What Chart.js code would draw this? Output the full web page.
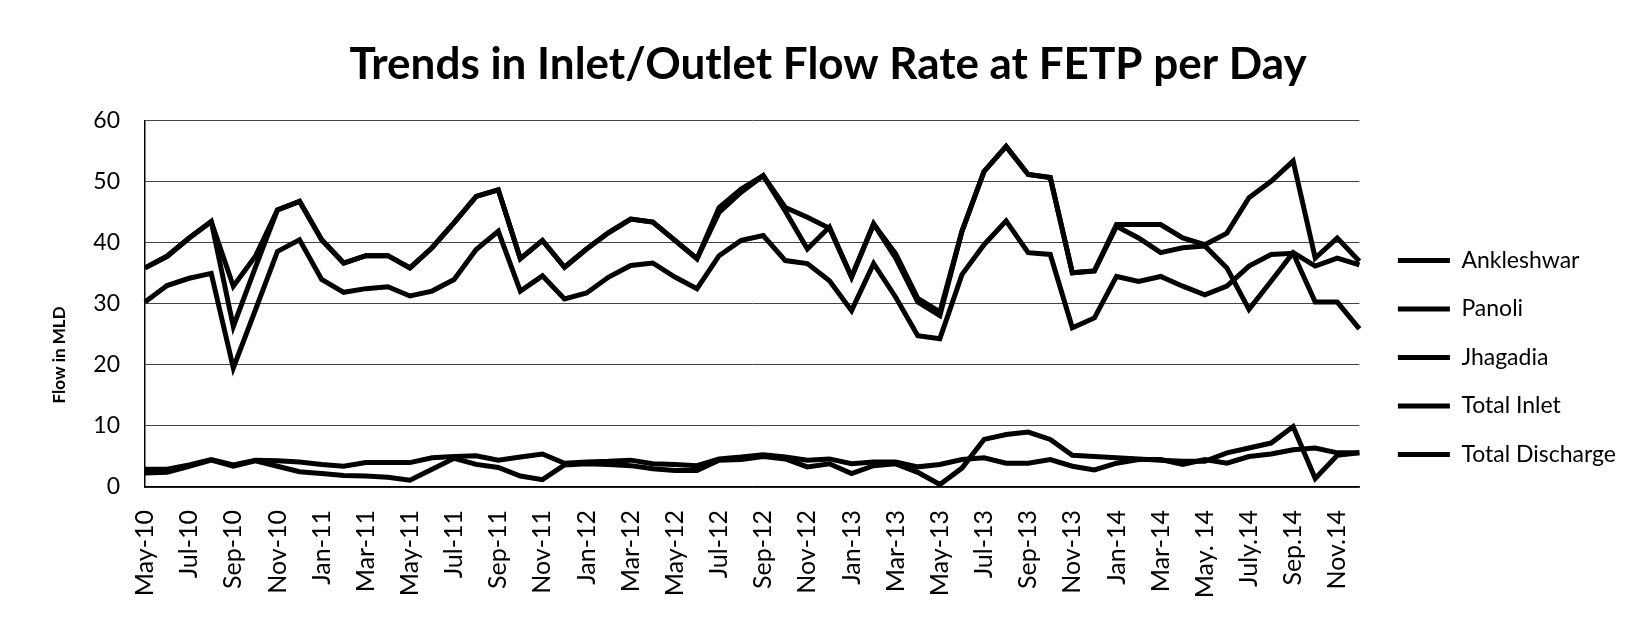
<!DOCTYPE html>
<html>
<head>
<meta charset="utf-8">
<script src="https://cdn.jsdelivr.net/npm/chart.js@4.4.1/dist/chart.umd.min.js"></script>
<style>
html,body{margin:0;padding:0;background:#fff;}
#wrap{width:1636px;height:623px;position:relative;}
canvas{display:block;}
</style>
</head>
<body>
<div id="wrap"><canvas id="c" width="1636" height="623"></canvas></div>
<script>
// ---- Data ----
const categories = [
  'May-10','Jun-10','Jul-10','Aug-10','Sep-10','Oct-10','Nov-10','Dec-10',
  'Jan-11','Feb-11','Mar-11','Apr-11','May-11','Jun-11','Jul-11','Aug-11','Sep-11','Oct-11','Nov-11','Dec-11',
  'Jan-12','Feb-12','Mar-12','Apr-12','May-12','Jun-12','Jul-12','Aug-12','Sep-12','Oct-12','Nov-12','Dec-12',
  'Jan-13','Feb-13','Mar-13','Apr-13','May-13','Jun-13','Jul-13','Aug-13','Sep-13','Oct-13','Nov-13','Dec-13',
  'Jan-14','Feb-14','Mar-14','Apr-14','May. 14','Jun. 14','July.14','Aug.14','Sep.14','Oct.14','Nov.14','Dec.14'
];

const ankleshwar = [
  30.3, 33.0, 34.2, 35.0, 19.5, 29.0, 38.6, 40.5,
  34.0, 31.9, 32.5, 32.8, 31.3, 32.1, 34.0, 38.9, 41.9, 32.1, 34.6, 30.8,
  31.8, 34.4, 36.3, 36.7, 34.4, 32.5, 37.9, 40.4, 41.2, 37.1, 36.6, 33.8,
  28.9, 36.6, 31.1, 24.8, 24.3, 34.8, 39.7, 43.6, 38.4, 38.1, 26.1, 27.7,
  34.5, 33.7, 34.5, 32.9, 31.5, 32.9, 36.2, 38.1, 38.3, 30.3, 30.3, 25.9
];

const panoli = [
  2.9, 2.9, 3.6, 4.5, 3.6, 4.4, 4.3, 4.1,
  3.7, 3.4, 4.0, 4.0, 4.0, 4.8, 5.0, 5.1, 4.4, 4.9, 5.4, 3.9,
  4.1, 4.2, 4.4, 3.8, 3.7, 3.5, 4.6, 4.9, 5.3, 4.9, 4.4, 4.6,
  3.8, 4.1, 4.1, 3.3, 3.7, 4.5, 4.8, 3.9, 3.9, 4.5, 3.4, 2.8,
  3.9, 4.5, 4.5, 3.7, 4.5, 3.9, 5.0, 5.4, 6.1, 6.4, 5.6, 5.6
];

const jhagadia = [
  2.3, 2.4, 3.4, 4.4, 3.4, 4.3, 3.4, 2.5,
  2.2, 1.9, 1.8, 1.6, 1.1, 2.9, 4.7, 3.7, 3.2, 1.8, 1.2, 3.6,
  3.8, 3.7, 3.5, 3.0, 2.7, 2.7, 4.4, 4.5, 5.0, 4.6, 3.3, 3.8,
  2.2, 3.5, 3.8, 2.4, 0.4, 3.1, 7.8, 8.6, 9.0, 7.8, 5.2, 5.0,
  4.8, 4.6, 4.4, 4.2, 4.2, 5.6, 6.4, 7.2, 9.9, 1.4, 5.2, 5.6
];

const totalInlet = [
  35.9, 37.8, 40.8, 43.5, 32.9, 37.8, 45.4, 46.8,
  40.5, 36.7, 37.9, 37.9, 35.9, 39.2, 43.3, 47.6, 48.7, 37.4, 40.4, 36.0,
  39.0, 41.7, 43.9, 43.4, 40.4, 37.4, 45.8, 48.8, 51.0, 45.8, 44.2, 42.4,
  34.4, 43.1, 38.2, 30.9, 28.7, 41.9, 51.7, 55.8, 51.2, 50.7, 35.1, 35.4,
  43.0, 43.0, 43.0, 40.8, 39.7, 41.6, 47.4, 50.1, 53.4, 37.5, 40.8, 37.0
];

const totalDischarge = [
  35.9, 37.8, 40.8, 43.5, 26.3, 36.0, 45.4, 46.8,
  40.5, 36.7, 37.9, 37.9, 35.9, 39.2, 43.3, 47.6, 48.7, 37.4, 40.4, 36.0,
  39.0, 41.7, 43.9, 43.4, 40.4, 37.4, 45.0, 48.3, 51.0, 45.2, 39.0, 42.6,
  34.4, 43.1, 37.5, 30.3, 28.1, 41.9, 51.7, 55.8, 51.2, 50.7, 35.1, 35.4,
  42.7, 40.8, 38.4, 39.2, 39.5, 35.9, 29.1, 33.7, 38.4, 36.2, 37.5, 36.4
];

const seriesNames = ['Ankleshwar', 'Panoli', 'Jhagadia', 'Total Inlet', 'Total Discharge'];
const yTicks = [0, 10, 20, 30, 40, 50, 60];
const chartTitle = 'Trends in Inlet/Outlet Flow Rate at FETP per Day';
const yAxisTitle = 'Flow in MLD';

// ---- Chart ----
const FONT = "Lato, 'Noto Sans', sans-serif";

const seriesValues = [ankleshwar, panoli, jhagadia, totalInlet, totalDischarge];
const datasets = seriesNames.map((name, k) => ({
  label: name,
  data: seriesValues[k],
  borderColor: '#000',
  backgroundColor: '#000',
  borderWidth: 5,
  pointRadius: 0,
  tension: 0,
  fill: false
}));

const yTitlePlugin = {
  id: 'yTitle',
  afterDraw(chart) {
    const ctx = chart.ctx;
    const area = chart.chartArea;
    ctx.save();
    ctx.translate(60, area.top + (area.bottom - area.top) / 2 + 51);
    ctx.rotate(-Math.PI / 2);
    ctx.font = "bold 17px " + FONT;
    ctx.fillStyle = '#000';
    ctx.textAlign = 'center';
    ctx.textBaseline = 'middle';
    ctx.fillText(yAxisTitle, 0, 0);
    ctx.restore();
  }
};

// nudges the legend block to where the reference places it
const legendNudge = {
  id: 'legendNudge',
  afterLayout(chart) {
    const l = chart.legend;
    if (!l) return;
    l.left += 13; l.right += 13;
    l.top += 46; l.bottom += 46;
  }
};

new Chart(document.getElementById('c'), {
  type: 'line',
  data: { labels: categories, datasets: datasets },
  plugins: [yTitlePlugin, legendNudge],
  options: {
    responsive: false,
    animation: false,
    devicePixelRatio: 1,
    layout: { padding: { left: 43, right: 23, top: 0, bottom: 0 } },
    plugins: {
      title: {
        display: true,
        text: chartTitle,
        color: '#000',
        font: { family: FONT, size: 44, weight: 'bold' },
        padding: { top: 38, bottom: 30 }
      },
      legend: {
        position: 'right',
        align: 'center',
        labels: {
          color: '#000',
          font: { family: FONT, size: 23 },
          boxWidth: 52,
          boxHeight: 5,
          padding: 25.5,
          generateLabels(chart) {
            return chart.data.datasets.map((ds, i) => ({
              text: ds.label,
              fillStyle: '#000',
              strokeStyle: '#000',
              lineWidth: 0,
              hidden: false,
              datasetIndex: i,
              fontColor: '#000'
            }));
          }
        }
      },
      tooltip: { enabled: false }
    },
    scales: {
      x: {
        grid: { display: false, drawTicks: false },
        border: { display: true, color: '#000', width: 1.5 },
        ticks: {
          autoSkip: false,
          maxRotation: 90,
          minRotation: 90,
          padding: 23,
          color: '#000',
          font: { family: FONT, size: 25 },
          callback: (v, i) => (i % 2 === 0 ? categories[i] : '')
        },
        afterFit(scale) { scale.height = 136; }
      },
      y: {
        min: 0,
        max: 60,
        afterBuildTicks(scale) { scale.ticks = yTicks.map(v => ({ value: v })); },
        grid: { color: '#444', lineWidth: 1, drawTicks: false },
        border: { display: true, color: '#000', width: 1.5 },
        ticks: {
          padding: 25,
          color: '#000',
          font: { family: FONT, size: 23 }
        },
        afterFit(scale) { scale.width = 102; }
      }
    }
  }
});
</script>
</body>
</html>
